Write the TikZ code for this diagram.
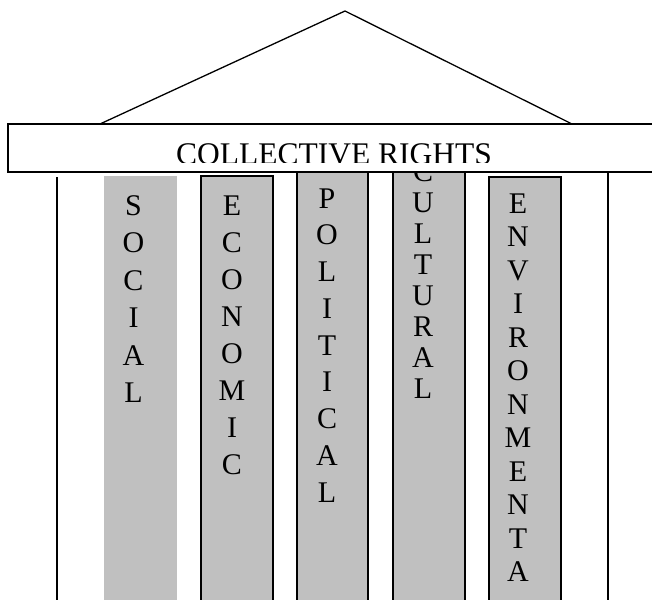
\documentclass[tikz,border=0pt]{standalone}
\usepackage{fontspec}
\setmainfont{Liberation Serif}
\definecolor{pillargray}{RGB}{192,192,192}

\begin{document}
\begin{tikzpicture}[x=1pt,y=-1pt,
        letter/.style={anchor=base,inner sep=0pt,font=\fontsize{30}{36}\selectfont},
        pillar/.style={fill=pillargray,draw=black,line width=1.3pt}]
        \clip (0,0) rectangle (652,599);

        % pillars
        \fill[pillargray] (104,176) rectangle (177,610);
        \draw[pillar] (201,176) rectangle (273,610);
        \draw[pillar] (297,160) rectangle (368,610);
        \draw[pillar] (393,160) rectangle (465,610);
        \draw[pillar] (489,177) rectangle (561,610);

        % letters
        \foreach \l [count=\i] in {S,O,C,I,A,L}
            \node[letter] (soc\i) at (133.5,{215+37.5*(\i-1)}) {\l};
        \foreach \l [count=\i] in {E,C,O,N,O,M,I,C}
            \node[letter] (eco\i) at (232,{215+37.1*(\i-1)}) {\l};
        \foreach \l [count=\i] in {P,O,L,I,T,I,C,A,L}
            \node[letter] (pol\i) at (327,{208+36.75*(\i-1)}) {\l};
        \begin{scope}
            \clip (393,172) rectangle (465,610);
            \foreach \l [count=\i] in {C,U,L,T,U,R,A,L}
                \node[letter] (cul\i) at (423,{181+31*(\i-1)}) {\l};
        \end{scope}
        \foreach \l [count=\i] in {E,N,V,I,R,O,N,M,E,N,T,A}
            \node[letter] (env\i) at (518,{213+33.5*(\i-1)}) {\l};

        % beam and roof
        \draw[line width=1.5pt,fill=white] (8,124) rectangle (660,172);
        \coordinate (roofL) at (100,124);
        \coordinate (apex) at (345,11);
        \coordinate (roofR) at (572,124);
        \draw[line width=1.3pt] (roofL) -- (apex) -- (roofR);

        \begin{scope}
            \clip (8,124) rectangle (652,162);
            \node[letter,font=\fontsize{31.5}{38}\selectfont] (title) at (334,164) {COLLECTIVE RIGHTS};
        \end{scope}

        % outer posts
        \draw[line width=1.3pt] (57,177) -- (57,610);
        \draw[line width=1.3pt] (608,172) -- (608,610);
    \end{tikzpicture}
\end{document}
